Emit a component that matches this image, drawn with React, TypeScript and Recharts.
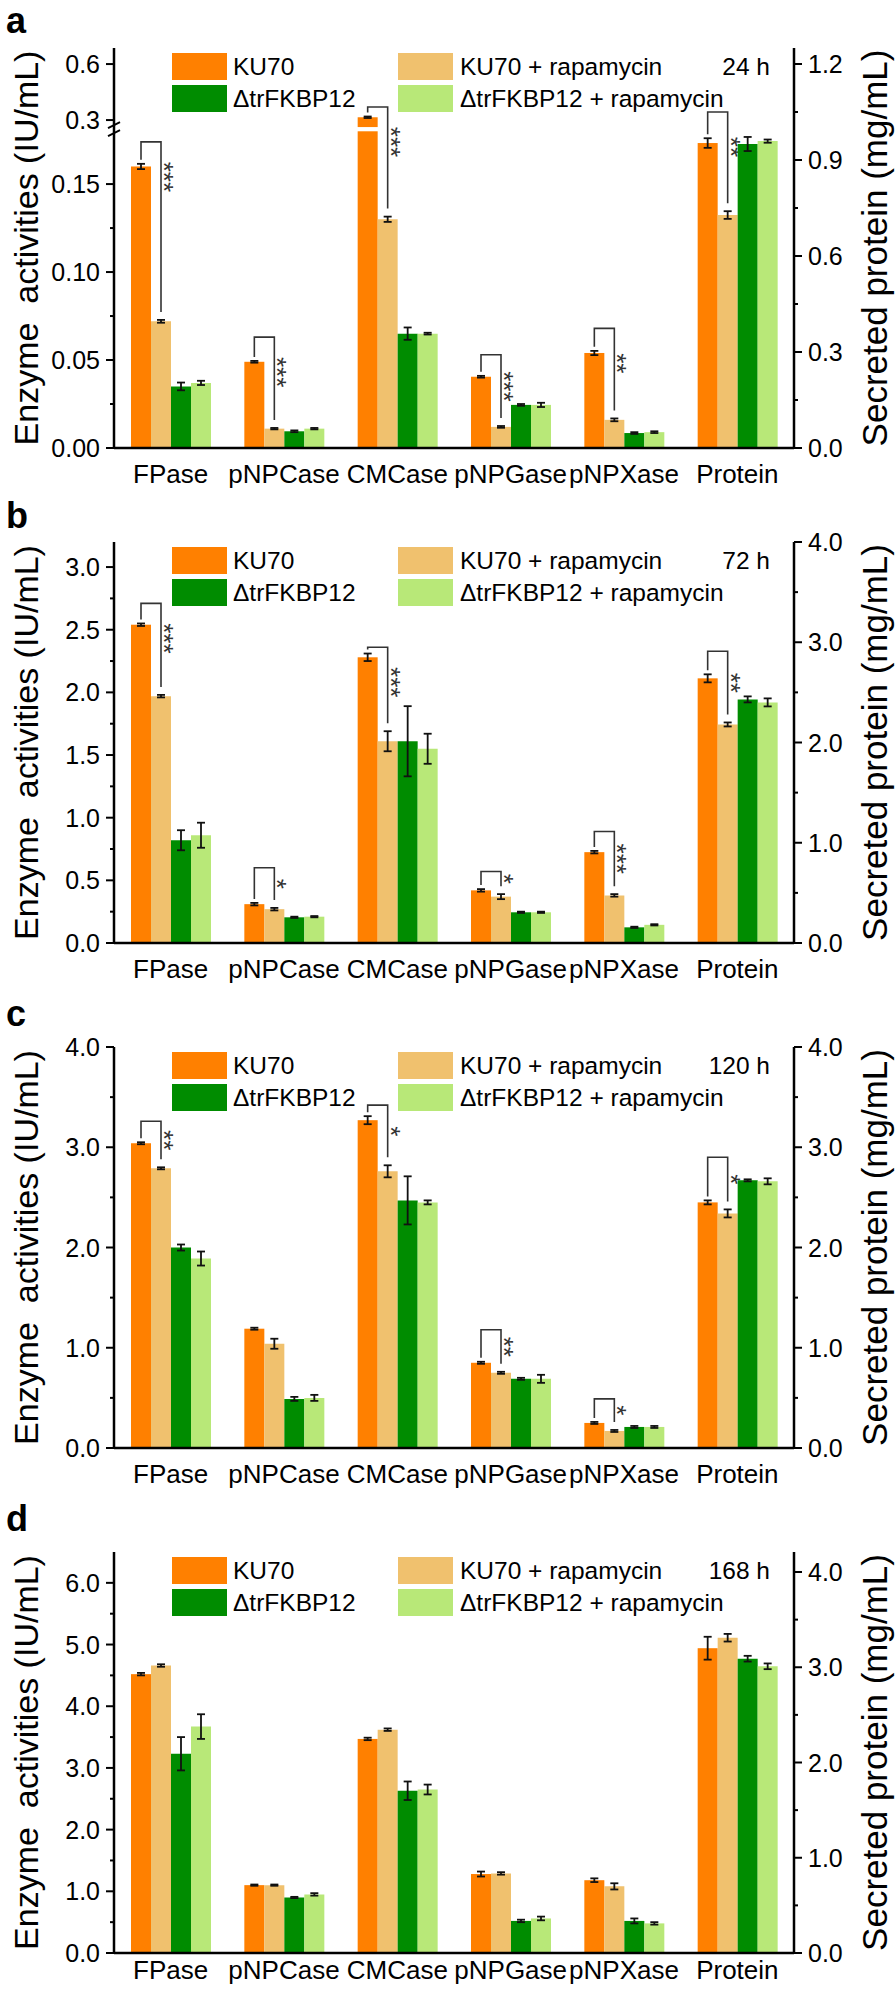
import React from "react";
import { BarChart, Bar, XAxis, YAxis, ErrorBar, ReferenceLine, Legend } from "recharts";

if (typeof document !== "undefined") document.body.style.margin = "0";

const FONT = "'Liberation Sans', Arial, Helvetica, sans-serif";

const categories = ["FPase", "pNPCase", "CMCase", "pNPGase", "pNPXase", "Protein"];
const PROTEIN = 5;
const seriesNames = ["KU70", "KU70 + rapamycin", "\u0394trFKBP12", "\u0394trFKBP12 + rapamycin"];
const seriesColors = ["#ff8000", "#f0c16e", "#008c00", "#b8e878"];

// enzyme activities (IU/mL) for the first five, secreted protein (mg/mL) last
// 24 h
const ku70_24h = [0.16, 0.049, 0.315, 0.0405, 0.054, 0.953];
const ku70Rapa_24h = [0.072, 0.011, 0.13, 0.012, 0.016, 0.728];
const dFkbp_24h = [0.035, 0.0095, 0.065, 0.0245, 0.0085, 0.95];
const dFkbpRapa_24h = [0.037, 0.011, 0.065, 0.0245, 0.009, 0.959];
const ku70Err_24h = [0.0015, 0.0005, 0.004, 0.0005, 0.0012, 0.015];
const ku70RapaErr_24h = [0.0008, 0.0004, 0.0015, 0.0005, 0.0008, 0.012];
const dFkbpErr_24h = [0.0022, 0.0005, 0.0035, 0.0005, 0.0005, 0.022];
const dFkbpRapaErr_24h = [0.0012, 0.0004, 0.0005, 0.0012, 0.0005, 0.005];
const sig_24h = [
  { cat: 0, stars: "***", level: 0.174 },
  { cat: 1, stars: "***", level: 0.063 },
  { cat: 2, stars: "***", level: 0.37 },
  { cat: 3, stars: "***", level: 0.053 },
  { cat: 4, stars: "**", level: 0.068 },
  { cat: 5, stars: "**", level: 1.05 },
];

// 72 h
const ku70_72h = [2.54, 0.31, 2.28, 0.42, 0.725, 2.64];
const ku70Rapa_72h = [1.97, 0.27, 1.61, 0.37, 0.38, 2.18];
const dFkbp_72h = [0.82, 0.205, 1.61, 0.245, 0.125, 2.43];
const dFkbpRapa_72h = [0.86, 0.21, 1.55, 0.245, 0.145, 2.4];
const ku70Err_72h = [0.01, 0.01, 0.03, 0.01, 0.01, 0.04];
const ku70RapaErr_72h = [0.01, 0.01, 0.08, 0.02, 0.01, 0.02];
const dFkbpErr_72h = [0.08, 0.005, 0.28, 0.005, 0.005, 0.03];
const dFkbpRapaErr_72h = [0.1, 0.005, 0.12, 0.005, 0.005, 0.04];
const sig_72h = [
  { cat: 0, stars: "***", level: 2.71 },
  { cat: 1, stars: "*", level: 0.6 },
  { cat: 2, stars: "***", level: 2.36 },
  { cat: 3, stars: "*", level: 0.57 },
  { cat: 4, stars: "***", level: 0.89 },
  { cat: 5, stars: "**", level: 2.91 },
];

// 120 h
const ku70_120h = [3.04, 1.19, 3.27, 0.85, 0.25, 2.45];
const ku70Rapa_120h = [2.79, 1.04, 2.76, 0.75, 0.17, 2.34];
const dFkbp_120h = [2.0, 0.49, 2.47, 0.69, 0.21, 2.67];
const dFkbpRapa_120h = [1.89, 0.5, 2.45, 0.69, 0.21, 2.66];
const ku70Err_120h = [0.01, 0.01, 0.04, 0.01, 0.01, 0.02];
const ku70RapaErr_120h = [0.01, 0.05, 0.06, 0.01, 0.01, 0.04];
const dFkbpErr_120h = [0.03, 0.02, 0.24, 0.01, 0.01, 0.01];
const dFkbpRapaErr_120h = [0.07, 0.03, 0.02, 0.04, 0.01, 0.03];
const sig_120h = [
  { cat: 0, stars: "**", level: 3.26 },
  { cat: 2, stars: "*", level: 3.42 },
  { cat: 3, stars: "**", level: 1.18 },
  { cat: 4, stars: "*", level: 0.49 },
  { cat: 5, stars: "*", level: 2.9 },
];

// 168 h
const ku70_168h = [4.52, 1.1, 3.47, 1.28, 1.18, 3.2];
const ku70Rapa_168h = [4.66, 1.1, 3.62, 1.29, 1.08, 3.31];
const dFkbp_168h = [3.23, 0.9, 2.63, 0.52, 0.52, 3.09];
const dFkbpRapa_168h = [3.67, 0.95, 2.65, 0.56, 0.48, 3.01];
const ku70Err_168h = [0.02, 0.01, 0.02, 0.04, 0.03, 0.12];
const ku70RapaErr_168h = [0.02, 0.01, 0.02, 0.02, 0.05, 0.04];
const dFkbpErr_168h = [0.27, 0.01, 0.15, 0.02, 0.04, 0.03];
const dFkbpRapaErr_168h = [0.2, 0.02, 0.08, 0.03, 0.02, 0.03];

// tick values
const leftTicks_24h = [0, 0.05, 0.1, 0.15, 0.3, 0.6];
const leftLabels_24h = ["0.00", "0.05", "0.10", "0.15", "0.3", "0.6"];
const leftMinor_24h = [0.025, 0.075, 0.125];
const rightTicks_24h = [0, 0.3, 0.6, 0.9, 1.2];
const rightMinor_24h = [0.15, 0.45, 0.75, 1.05];
const leftTicks_72h = [0, 0.5, 1, 1.5, 2, 2.5, 3];
const leftMinor_72h = [0.25, 0.75, 1.25, 1.75, 2.25, 2.75];
const ticks0to4 = [0, 1, 2, 3, 4];
const minor0to4 = [0.5, 1.5, 2.5, 3.5];
const leftTicks_168h = [0, 1, 2, 3, 4, 5, 6];
const leftMinor_168h = [0.5, 1.5, 2.5, 3.5, 4.5, 5.5];

// broken left axis of the 24 h panel: 0..0.18 linear, gap, then compressed upper part
const BREAK_LOW = 0.18;
const BREAK_HIGH = 0.2625;
const BREAK_GAP = 0.0024;
const UPPER_SCALE = 0.1061;
const warpBroken = (v: number) =>
  v <= BREAK_LOW ? v : v < BREAK_HIGH ? BREAK_LOW + BREAK_GAP : BREAK_LOW + BREAK_GAP + (v - BREAK_HIGH) * UPPER_SCALE;
const identity = (v: number) => v;

const panels = [
  {
    letter: "a", letterBase: 33, time: "24 h", height: 495, top: 48, labelGap: 9, broken: true,
    means: [ku70_24h, ku70Rapa_24h, dFkbp_24h, dFkbpRapa_24h],
    errors: [ku70Err_24h, ku70RapaErr_24h, dFkbpErr_24h, dFkbpRapaErr_24h],
    sig: sig_24h, leftMax: warpBroken(0.686), rightMax: 1.25,
    leftTicks: leftTicks_24h, leftLabels: leftLabels_24h, leftMinor: leftMinor_24h,
    rightTicks: rightTicks_24h, rightMinor: rightMinor_24h,
  },
  {
    letter: "b", letterBase: 33, time: "72 h", height: 505, top: 47, labelGap: 9, broken: false,
    means: [ku70_72h, ku70Rapa_72h, dFkbp_72h, dFkbpRapa_72h],
    errors: [ku70Err_72h, ku70RapaErr_72h, dFkbpErr_72h, dFkbpRapaErr_72h],
    sig: sig_72h, leftMax: 3.2, rightMax: 4,
    leftTicks: leftTicks_72h, leftLabels: null, leftMinor: leftMinor_72h,
    rightTicks: ticks0to4, rightMinor: minor0to4,
  },
  {
    letter: "c", letterBase: 26, time: "120 h", height: 505, top: 47, labelGap: 9, broken: false,
    means: [ku70_120h, ku70Rapa_120h, dFkbp_120h, dFkbpRapa_120h],
    errors: [ku70Err_120h, ku70RapaErr_120h, dFkbpErr_120h, dFkbpRapaErr_120h],
    sig: sig_120h, leftMax: 4, rightMax: 4,
    leftTicks: ticks0to4, leftLabels: null, leftMinor: minor0to4,
    rightTicks: ticks0to4, rightMinor: minor0to4,
  },
  {
    letter: "d", letterBase: 26, time: "168 h", height: 487, top: 47, labelGap: 0, broken: false,
    means: [ku70_168h, ku70Rapa_168h, dFkbp_168h, dFkbpRapa_168h],
    errors: [ku70Err_168h, ku70RapaErr_168h, dFkbpErr_168h, dFkbpRapaErr_168h],
    sig: [], leftMax: 6.5, rightMax: 4.21,
    leftTicks: leftTicks_168h, leftLabels: null, leftMinor: leftMinor_168h,
    rightTicks: ticks0to4, rightMinor: minor0to4,
  },
];

const PLOT_BOTTOM = 448;
const AXIS = { stroke: "#000", strokeWidth: 2.5 };

const makeTick = (side: "left" | "right", labels: Map<string, string>) => (props: any) => {
  const { x, y, payload } = props;
  const label = labels.get(Number(payload.value).toFixed(6));
  const axisX = side === "left" ? x + 14 : x - 14;
  const len = label !== undefined ? 8 : 4;
  return (
    <g>
      <line x1={axisX} y1={y} x2={side === "left" ? axisX - len : axisX + len} y2={y} stroke="#000" strokeWidth={2} />
      {label !== undefined && (
        <text x={x} y={y} dy="0.36em" textAnchor={side === "left" ? "end" : "start"} fontSize={25} fontFamily={FONT} fill="#000">
          {label}
        </text>
      )}
    </g>
  );
};

// KU70 bar: draws the rect (split at the axis break) and the significance bracket to KU70 + rapamycin
const makeKuShape = (p: any, protein: boolean) => (props: any) => {
  const { x, y, width, height, fill } = props;
  if (!(height > 0)) return <g />;
  const cat = props.payload?.cat ?? props.cat;
  const i = categories.indexOf(cat);
  const warp = !protein && p.broken ? warpBroken : identity;
  const bottom = y + height;
  const k = height / warp(p.means[0][i]);
  const toY = (v: number) => bottom - warp(v) * k;
  const parts: any[] = [];
  if (!protein && p.broken && p.means[0][i] > BREAK_HIGH) {
    const gTop = bottom - (BREAK_LOW + BREAK_GAP) * k;
    const gBot = bottom - BREAK_LOW * k;
    parts.push(<rect key="u" x={x} y={y} width={width} height={gTop - y} fill={fill} />);
    parts.push(<rect key="l" x={x} y={gBot} width={width} height={bottom - gBot} fill={fill} />);
  } else {
    parts.push(<rect key="r" x={x} y={y} width={width} height={height} fill={fill} />);
  }
  const s = p.sig.find((d: any) => d.cat === i);
  if (s) {
    const xl = x + width / 2;
    const xr = x + width * 1.5;
    const yb = toY(s.level);
    const yl = toY(p.means[0][i] + p.errors[0][i]) - 4;
    const yr = toY(p.means[1][i] + p.errors[1][i]) - 8;
    const yc = yb + Math.min((yr - yb) / 2, 35);
    parts.push(
      <path key="b" d={`M${xl},${yl}V${yb}H${xr}V${yr}`} fill="none" stroke="#333" strokeWidth={1.6} />
    );
    parts.push(
      <text key="s" x={xr - 6} y={yc} transform={`rotate(90 ${xr - 6} ${yc})`} textAnchor="middle" fontSize={26} fontFamily={FONT} fill="#333">
        {s.stars}
      </text>
    );
  }
  return <g>{parts}</g>;
};

const renderBreak = (props: any) => {
  const { x1, y1 } = props;
  return (
    <g>
      <rect x={x1 - 4} y={y1 - 3} width={8} height={6} fill="#fff" />
      <line x1={x1 - 6} y1={y1 - 1} x2={x1 + 6} y2={y1 - 7} stroke="#000" strokeWidth={2} />
      <line x1={x1 - 6} y1={y1 + 7} x2={x1 + 6} y2={y1 + 1} stroke="#000" strokeWidth={2} />
    </g>
  );
};

const LegendBox = ({ time }: { time: string }) => (
  <div style={{ position: "relative", width: 896, height: 60, fontFamily: FONT, fontSize: 24.5, color: "#000" }}>
    {seriesNames.map((name, s) => {
      const col = s % 2;
      const row = Math.floor(s / 2);
      return (
        <React.Fragment key={name}>
          <div style={{ position: "absolute", left: col ? 398 : 172, top: row * 32, width: 55, height: 27, background: seriesColors[s] }} />
          <div style={{ position: "absolute", left: col ? 460 : 233, top: row * 32, height: 27, lineHeight: "27px", whiteSpace: "nowrap" }}>
            {name}
          </div>
        </React.Fragment>
      );
    })}
    <div style={{ position: "absolute", right: 896 - 770, top: 0, height: 27, lineHeight: "27px" }}>{time}</div>
  </div>
);

function Panel({ p }: { p: any }) {
  const warpL = p.broken ? warpBroken : identity;
  const rows = categories.map((cat, i) => {
    const row: any = { cat };
    p.means.forEach((vals: number[], s: number) => {
      const v = vals[i];
      const e = p.errors[s][i];
      if (i === PROTEIN) {
        row[`p${s}`] = v;
        row[`pe${s}`] = e;
      } else {
        const w = warpL(v);
        row[`e${s}`] = w;
        row[`ee${s}`] = [w - warpL(v - e), warpL(v + e) - w];
      }
    });
    return row;
  });
  const leftLabels = new Map<string, string>(
    p.leftTicks.map((v: number, j: number) => [warpL(v).toFixed(6), p.leftLabels ? p.leftLabels[j] : v.toFixed(1)])
  );
  const rightLabels = new Map<string, string>(p.rightTicks.map((v: number) => [v.toFixed(6), v.toFixed(1)]));
  const leftAll = [...p.leftTicks, ...p.leftMinor].map(warpL);
  const rightAll = [...p.rightTicks, ...p.rightMinor];
  const midY = (p.top + PLOT_BOTTOM) / 2;
  const letterSize = 36;

  return (
    <div style={{ position: "relative", width: 896, height: p.height }}>
      <div
        style={{
          position: "absolute", left: 6, top: p.letterBase - 0.905 * letterSize,
          fontFamily: FONT, fontWeight: "bold", fontSize: letterSize, lineHeight: "normal",
        }}
      >
        {p.letter}
      </div>
      <BarChart width={896} height={p.height} data={rows} margin={{ top: p.top, right: 0, bottom: 0, left: 0 }} barGap={0}>
        <XAxis
          dataKey="cat"
          height={p.height - PLOT_BOTTOM}
          interval={0}
          tickLine={false}
          tickSize={8}
          tickMargin={p.labelGap}
          axisLine={AXIS}
          tick={{ fontSize: 26, fill: "#000", fontFamily: FONT }}
        />
        <XAxis xAxisId="top" orientation="top" dataKey="cat" height={0} tick={false} tickLine={false} axisLine={AXIS} />
        <YAxis
          yAxisId="left"
          width={114}
          domain={[0, p.leftMax]}
          allowDataOverflow
          ticks={leftAll}
          interval={0}
          tickSize={8}
          tickMargin={6}
          tickLine={false}
          axisLine={AXIS}
          tick={makeTick("left", leftLabels)}
          label={() => (
            <text x={26} y={midY} transform={`rotate(-90 26 ${midY})`} textAnchor="middle" dominantBaseline="central" fontSize={34} fontFamily={FONT} fill="#000">
              {"Enzyme\u00a0\u00a0activities (IU/mL)"}
            </text>
          )}
        />
        <YAxis
          yAxisId="right"
          orientation="right"
          width={102}
          domain={[0, p.rightMax]}
          allowDataOverflow
          ticks={rightAll}
          interval={0}
          tickSize={8}
          tickMargin={6}
          tickLine={false}
          axisLine={AXIS}
          tick={makeTick("right", rightLabels)}
          label={() => (
            <text x={874} y={midY} transform={`rotate(-90 874 ${midY})`} textAnchor="middle" dominantBaseline="central" fontSize={35} fontFamily={FONT} fill="#000">
              Secreted protein (mg/mL)
            </text>
          )}
        />
        {seriesNames.map((name, s) => (
          <Bar
            key={`e${s}`}
            name={name}
            dataKey={`e${s}`}
            yAxisId="left"
            stackId={`s${s}`}
            fill={seriesColors[s]}
            barSize={20}
            isAnimationActive={false}
            shape={s === 0 ? makeKuShape(p, false) : undefined}
          >
            <ErrorBar dataKey={`ee${s}`} width={4} stroke="#111" strokeWidth={1.8} />
          </Bar>
        ))}
        {seriesNames.map((name, s) => (
          <Bar
            key={`p${s}`}
            name={name}
            dataKey={`p${s}`}
            yAxisId="right"
            stackId={`s${s}`}
            fill={seriesColors[s]}
            barSize={20}
            isAnimationActive={false}
            shape={s === 0 ? makeKuShape(p, true) : undefined}
          >
            <ErrorBar dataKey={`pe${s}`} width={4} stroke="#111" strokeWidth={1.8} />
          </Bar>
        ))}
        {p.broken && (
          <ReferenceLine yAxisId="left" y={BREAK_LOW + BREAK_GAP / 2} stroke="none" ifOverflow="visible" shape={renderBreak} />
        )}
        <Legend
          verticalAlign="middle"
          align="center"
          wrapperStyle={{ top: p.top + 5, left: 0, width: 896, height: 60 }}
          content={() => <LegendBox time={p.time} />}
        />
      </BarChart>
    </div>
  );
}

export default function App() {
  return (
    <div style={{ width: 896, background: "#fff" }}>
      {panels.map((p) => (
        <Panel key={p.letter} p={p} />
      ))}
    </div>
  );
}
